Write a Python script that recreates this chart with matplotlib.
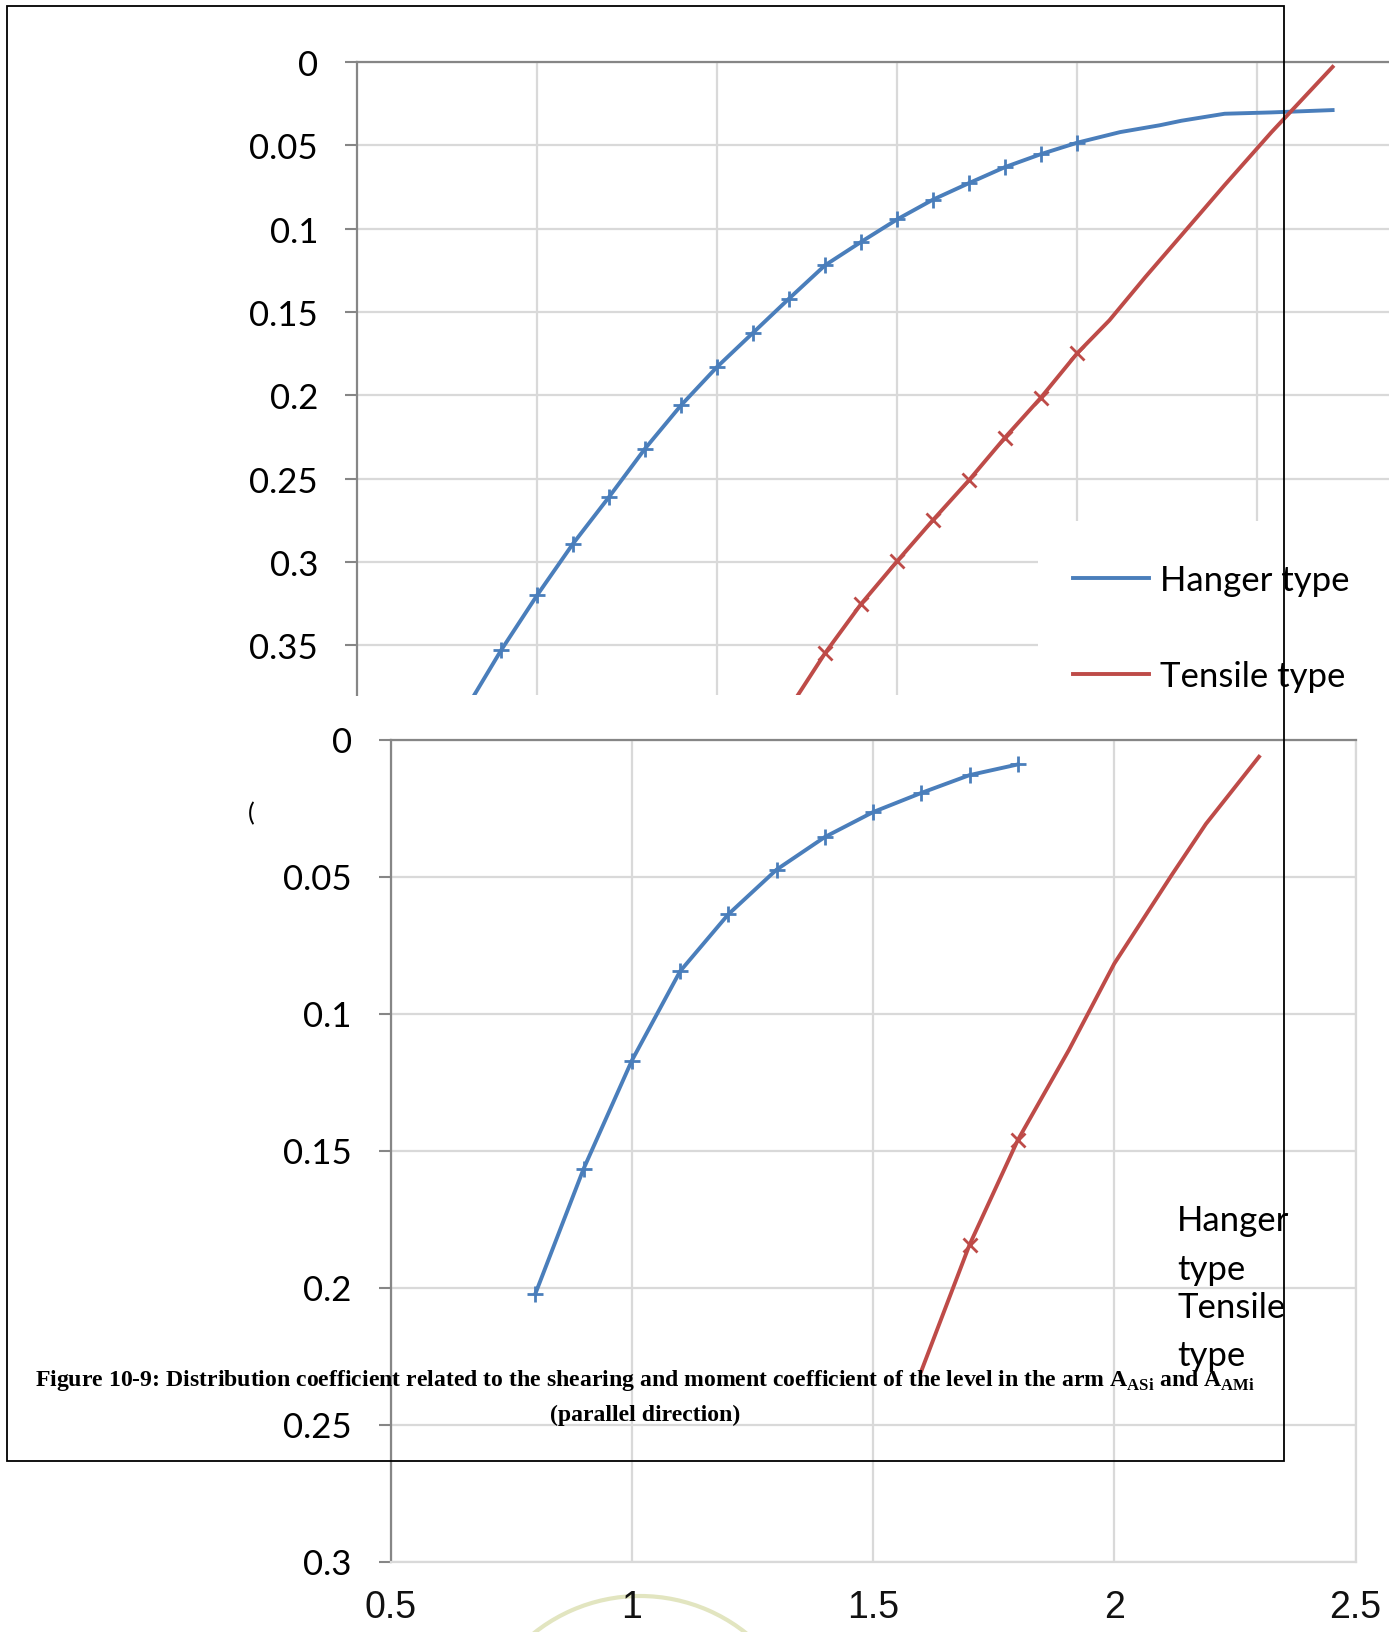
import matplotlib
matplotlib.use("Agg")
import matplotlib.pyplot as plt
from matplotlib.lines import Line2D
from matplotlib.patches import Rectangle, Arc

W, H = 1389, 1633
DPI = 100

BLUE = "#4a7ebb"
RED = "#be4b48"
GRID = "#d9d9d9"
AXIS = "#868686"

plt.rcParams["mathtext.fontset"] = "custom"
plt.rcParams["mathtext.rm"] = "Liberation Serif:bold"
plt.rcParams["mathtext.bf"] = "Liberation Serif:bold"

# upper chart (shearing coefficient), y axis reversed
top_hanger_x = [0.3, 0.4, 0.5, 0.6, 0.7, 0.8, 0.9, 1.0, 1.1, 1.2, 1.3, 1.4, 1.5, 1.6,
                1.7, 1.8, 1.9, 2.0, 2.12, 2.23, 2.29, 2.41, 2.54, 2.71]
top_hanger_y = [0.389, 0.353, 0.320, 0.289, 0.261, 0.232, 0.206, 0.183, 0.1625, 0.142,
                0.122, 0.108, 0.0945, 0.0826, 0.0727, 0.0631, 0.0553, 0.0485, 0.0421,
                0.0380, 0.0353, 0.0311, 0.0303, 0.0289]
top_hanger_marked = 18  # first 18 points carry markers

top_tensile_x = [1.2, 1.3, 1.4, 1.5, 1.6, 1.7, 1.8, 1.9, 2.0, 2.09, 2.19, 2.29, 2.41, 2.54, 2.71]
top_tensile_y = [0.388, 0.3547, 0.3252, 0.2996, 0.2748, 0.2509, 0.2253, 0.2013, 0.1749,
                 0.155, 0.129, 0.104, 0.0739, 0.0422, 0.003]
top_tensile_marked = 9

top_yticks = [0, 0.05, 0.1, 0.15, 0.2, 0.25, 0.3, 0.35]
top_ylabels = ["0", "0.05", "0.1", "0.15", "0.2", "0.25", "0.3", "0.35"]
top_xgrid = [0.5, 1.0, 1.5, 2.0, 2.5, 3.0]

# lower chart (moment coefficient)
bot_hanger_x = [0.8, 0.9, 1.0, 1.1, 1.2, 1.3, 1.4, 1.5, 1.6, 1.7, 1.8]
bot_hanger_y = [0.2023, 0.1567, 0.1172, 0.0846, 0.0638, 0.0475, 0.0356, 0.0265, 0.0195,
                0.0130, 0.0091]

bot_tensile_x = [1.6, 1.7, 1.8, 1.906, 2.0, 2.12, 2.19, 2.30]
bot_tensile_y = [0.2305, 0.1844, 0.1462, 0.1133, 0.0818, 0.0492, 0.0308, 0.0063]
bot_tensile_marks = [1, 2]

bot_yticks = [0, 0.05, 0.1, 0.15, 0.2, 0.25, 0.3]
bot_ylabels = ["0", "0.05", "0.1", "0.15", "0.2", "0.25", "0.3"]
bot_xticks = [0.5, 1.0, 1.5, 2.0, 2.5]
bot_xlabels = ["0.5", "1", "1.5", "2", "2.5"]

series_names = ["Hanger type", "Tensile type"]
caption_1 = (r"Figure 10-9: Distribution coefficient related to the shearing and moment "
             r"coefficient of the level in the arm A$_\mathrm{ASi}$ and A$_\mathrm{AMi}$")
caption_2 = "(parallel direction)"


def fig_rect(left, top, right, bottom):
    return [left / W, 1 - bottom / H, (right - left) / W, (bottom - top) / H]


def fx(px):
    return px / W


def fy(py):
    return 1 - py / H


fig = plt.figure(figsize=(W / DPI, H / DPI), dpi=DPI)

# ---- upper chart
ax1 = fig.add_axes(fig_rect(357, 62.9, 1437, 695.6), zorder=0)
ax1.plot(top_hanger_x, top_hanger_y, color=BLUE, lw=2.8, marker="+", ms=12, mew=2,
         markevery=list(range(top_hanger_marked)))
ax1.plot(top_tensile_x, top_tensile_y, color=RED, lw=2.8, marker="x", ms=10, mew=2,
         markevery=list(range(top_tensile_marked)))
ax1.set_xlim(0, 3)
ax1.set_ylim(0.3795, 0)
ax1.set_xticks(top_xgrid)
ax1.set_yticks(top_yticks, top_ylabels)
ax1.set_axisbelow(True)
ax1.grid(color=GRID, lw=1.6)
for s in ["right", "bottom"]:
    ax1.spines[s].set_visible(False)
for s in ["top", "left"]:
    ax1.spines[s].set_color(AXIS)
    ax1.spines[s].set_linewidth(1.6)
ax1.tick_params(axis="x", length=0, labelbottom=False)
ax1.tick_params(axis="y", direction="out", length=9, width=1.5, color=AXIS, pad=19,
                labelsize=25, labelfontfamily="Lato")

# white legend area of the upper chart
ax1.add_patch(Rectangle((fx(1038), fy(700)), 1 - fx(1038), fy(522) - fy(700),
                        transform=fig.transFigure, fc="white", ec="none",
                        zorder=1.5, clip_on=False))
handles = [Line2D([], [], color=BLUE, lw=2.8), Line2D([], [], color=RED, lw=2.8)]
ax1.legend(handles, series_names, loc="upper left",
           bbox_to_anchor=(fx(1073), fy(565)), bbox_transform=fig.transFigure,
           frameon=False, borderpad=0, borderaxespad=0, handlelength=2.2,
           handletextpad=0.3, labelspacing=1.85, prop={"family": "Lato", "size": 25})

# the lower chart is pasted over the bottom of the upper one
fig.add_artist(Rectangle((0, 0), 1, fy(697), transform=fig.transFigure,
                         fc="white", ec="none", zorder=1))
fig.add_artist(Arc((fx(640), fy(1767)), 340 / W, 340 / H, theta1=38, theta2=142,
                   transform=fig.transFigure, color="#e2e5c0", lw=3, zorder=1.5))

# ---- lower chart
ax2 = fig.add_axes(fig_rect(390.6, 740.5, 1355.5, 1562.5), zorder=2)
ax2.plot(bot_hanger_x, bot_hanger_y, color=BLUE, lw=2.8, marker="+", ms=12, mew=2)
ax2.plot(bot_tensile_x, bot_tensile_y, color=RED, lw=2.8, marker="x", ms=10, mew=2,
         markevery=bot_tensile_marks)
ax2.set_xlim(0.5, 2.5)
ax2.set_ylim(0.3, 0)
ax2.set_xticks(bot_xticks, bot_xlabels)
ax2.set_yticks(bot_yticks, bot_ylabels)
ax2.set_axisbelow(True)
ax2.grid(color=GRID, lw=1.6)
for s in ["right", "bottom"]:
    ax2.spines[s].set_color(GRID)
    ax2.spines[s].set_linewidth(1.6)
for s in ["top", "left"]:
    ax2.spines[s].set_color(AXIS)
    ax2.spines[s].set_linewidth(1.6)
ax2.tick_params(axis="x", length=0, pad=20, labelsize=27,
                labelfontfamily="Liberation Sans", labelcolor="#111111")
ax2.tick_params(axis="y", direction="out", length=9, width=1.5, color=AXIS, pad=19,
                labelsize=25, labelfontfamily="Lato")

# wrapped legend of the lower chart
for txt, ypos in zip(["Hanger", "type", "Tensile", "type"], [1221, 1270, 1308, 1356]):
    fig.text(fx(1177), fy(ypos), txt, ha="left", va="center", family="Lato",
             size=25, zorder=3)

fig.text(fx(251), fy(814), "(", ha="center", va="center", family="Lato", size=18,
         zorder=3)

# page frame and caption
fig.add_artist(Rectangle((fx(7), fy(1462)), (1284 - 7) / W, (1462 - 7) / H,
                         transform=fig.transFigure, fill=False, ec="black", lw=1.3,
                         zorder=3))
fig.text(fx(645), fy(1381), caption_1, ha="center", va="center",
         family="Liberation Serif", weight="bold", size=17.1, zorder=4)
fig.text(fx(645), fy(1415), caption_2, ha="center", va="center",
         family="Liberation Serif", weight="bold", size=17.1, zorder=4)

fig.savefig("out.png", dpi=DPI)
